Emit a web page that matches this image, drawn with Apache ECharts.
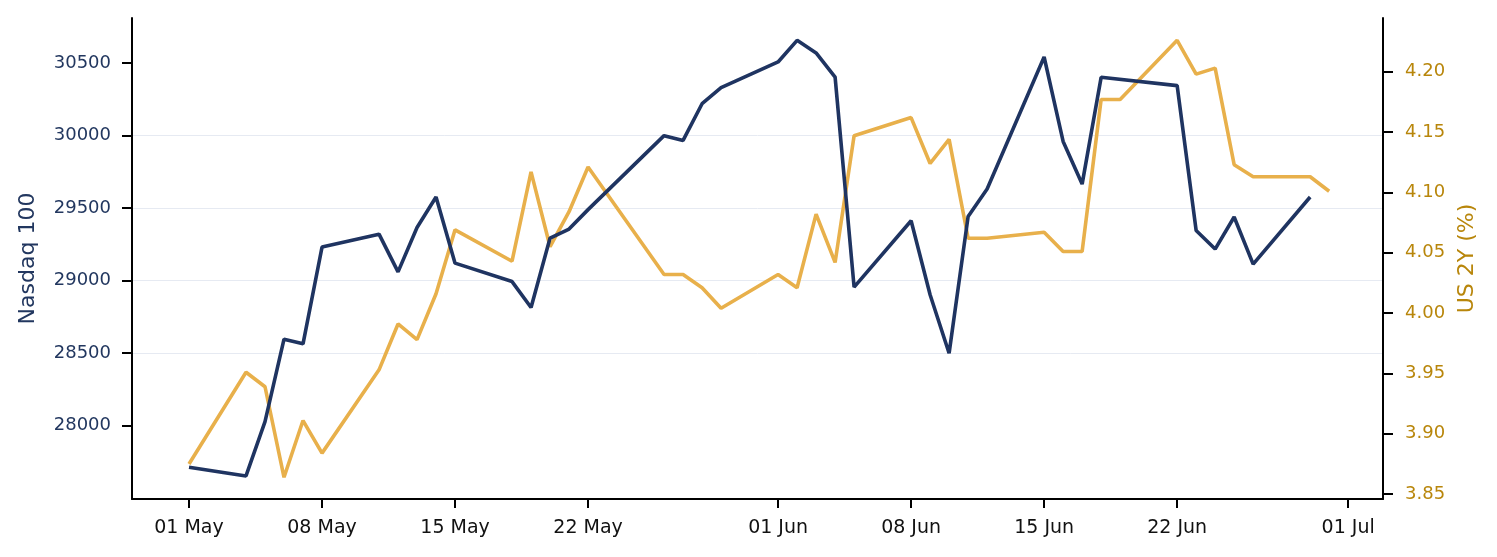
<!DOCTYPE html>
<html>
<head>
<meta charset="utf-8">
<script src="https://cdn.jsdelivr.net/npm/echarts@6/dist/echarts.min.js"></script>
<style>
  html, body { margin: 0; padding: 0; background: #fff; }
  #chart { width: 1497px; height: 557px; }
</style>
</head>
<body>
<div id="chart"></div>
<script>
// Nasdaq 100 trading days (navy line)
const ndxDates = [
  '2026-05-01', '2026-05-04', '2026-05-05', '2026-05-06', '2026-05-07', '2026-05-08',
  '2026-05-11', '2026-05-12', '2026-05-13', '2026-05-14', '2026-05-15',
  '2026-05-18', '2026-05-19', '2026-05-20', '2026-05-21', '2026-05-22',
  '2026-05-26', '2026-05-27', '2026-05-28', '2026-05-29',
  '2026-06-01', '2026-06-02', '2026-06-03', '2026-06-04', '2026-06-05',
  '2026-06-08', '2026-06-09', '2026-06-10', '2026-06-11', '2026-06-12',
  '2026-06-15', '2026-06-16', '2026-06-17', '2026-06-18',
  '2026-06-22', '2026-06-23', '2026-06-24', '2026-06-25', '2026-06-26',
  '2026-06-29'
];
const ndxValues = [
  27713, 27653, 28028, 28596, 28564, 29231,
  29320, 29060, 29366, 29576, 29120,
  28993, 28814, 29293, 29355, 29489,
  29999, 29966, 30219, 30330,
  30507, 30656, 30569, 30403, 28955,
  29412, 28902, 28499, 29442, 29631,
  30541, 29959, 29665, 30401,
  30344, 29345, 29217, 29438, 29113,
  29576
];

// US 2Y yield (gold line)
const us2yDates = [
  '2026-05-01', '2026-05-04', '2026-05-05', '2026-05-06', '2026-05-07', '2026-05-08',
  '2026-05-11', '2026-05-12', '2026-05-13', '2026-05-14', '2026-05-15',
  '2026-05-18', '2026-05-19', '2026-05-20', '2026-05-21', '2026-05-22',
  '2026-05-26', '2026-05-27', '2026-05-28', '2026-05-29',
  '2026-06-01', '2026-06-02', '2026-06-03', '2026-06-04', '2026-06-05',
  '2026-06-08', '2026-06-09', '2026-06-10', '2026-06-11', '2026-06-12',
  '2026-06-15', '2026-06-16', '2026-06-17', '2026-06-18', '2026-06-19',
  '2026-06-22', '2026-06-23', '2026-06-24', '2026-06-25', '2026-06-26',
  '2026-06-29', '2026-06-30'
];
const us2yValues = [
  3.875, 3.951, 3.939, 3.864, 3.911, 3.884,
  3.953, 3.991, 3.978, 4.016, 4.069,
  4.043, 4.117, 4.055, 4.084, 4.121,
  4.032, 4.032, 4.021, 4.004,
  4.032, 4.021, 4.082, 4.042, 4.147,
  4.162, 4.124, 4.144, 4.062, 4.062,
  4.067, 4.051, 4.051, 4.177, 4.177,
  4.226, 4.198, 4.203, 4.123, 4.113,
  4.113, 4.101
];

// tick labels
const xTickDates = ['2026-05-01', '2026-05-08', '2026-05-15', '2026-05-22', '2026-06-01',
  '2026-06-08', '2026-06-15', '2026-06-22', '2026-07-01'];
const ndxTicks = [28000, 28500, 29000, 29500, 30000, 30500];
const us2yTicks = [3.85, 3.90, 3.95, 4.00, 4.05, 4.10, 4.15, 4.20];

const MONTHS = ['Jan', 'Feb', 'Mar', 'Apr', 'May', 'Jun', 'Jul', 'Aug', 'Sep', 'Oct', 'Nov', 'Dec'];
function ts(s) {
  const p = s.split('-').map(Number);
  return Date.UTC(p[0], p[1] - 1, p[2]);
}
function fmtDate(v) {
  const d = new Date(v);
  return String(d.getUTCDate()).padStart(2, '0') + ' ' + MONTHS[d.getUTCMonth()];
}

const NAVY = '#1f3461';
const GOLD = '#e8b04b';
const FONT = 'DejaVu Sans';

let myChart = echarts.init(document.getElementById('chart'));
let option = {
  backgroundColor: '#fff',
  animation: false,
  grid: { left: 132, right: 114, top: 18, bottom: 58 },
  xAxis: {
    type: 'value',
    min: Date.UTC(2026, 3, 28),
    max: Date.UTC(2026, 6, 2, 20),
    axisLine: { show: true, lineStyle: { color: '#000', width: 2 } },
    axisTick: { show: true, length: 9, lineStyle: { color: '#000', width: 2 },
      customValues: xTickDates.map(ts) },
    axisLabel: { color: '#111', fontFamily: FONT, fontSize: 19, margin: 20,
      customValues: xTickDates.map(ts), formatter: fmtDate },
    splitLine: { show: false }
  },
  yAxis: [
    {
      type: 'value',
      position: 'left',
      min: 27494,
      max: 30810,
      minInterval: 500,
      maxInterval: 500,
      name: 'Nasdaq 100',
      nameLocation: 'middle',
      nameGap: 93,
      nameRotate: 90,
      nameTextStyle: { color: '#22375f', fontFamily: FONT, fontSize: 22 },
      axisLine: { show: true, lineStyle: { color: '#000', width: 2 } },
      axisTick: { show: true, length: 10, lineStyle: { color: '#000', width: 2 },
        customValues: ndxTicks },
      axisLabel: { color: '#22375f', fontFamily: FONT, fontSize: 18, margin: 21,
        customValues: ndxTicks, formatter: (v) => String(v) },
      splitLine: { show: true, showMinLine: false, showMaxLine: false,
        lineStyle: { color: '#e6eaf2', width: 1 } }
    },
    {
      type: 'value',
      position: 'right',
      min: 3.846,
      max: 4.2445,
      name: 'US 2Y (%)',
      nameLocation: 'middle',
      nameGap: 71,
      nameRotate: 90,
      nameTextStyle: { color: '#b8860b', fontFamily: FONT, fontSize: 22 },
      axisLine: { show: true, lineStyle: { color: '#000', width: 2 } },
      axisTick: { show: true, length: 10, lineStyle: { color: '#000', width: 2 },
        customValues: us2yTicks },
      axisLabel: { color: '#b8860b', fontFamily: FONT, fontSize: 18, margin: 22,
        customValues: us2yTicks, formatter: (v) => v.toFixed(2) },
      splitLine: { show: false }
    }
  ],
  series: [
    {
      name: 'Nasdaq 100',
      type: 'line',
      yAxisIndex: 0,
      showSymbol: false,
      lineStyle: { color: NAVY, width: 3.6 },
      itemStyle: { color: NAVY },
      data: ndxDates.map((d, i) => [ts(d), ndxValues[i]]),
      z: 3
    },
    {
      name: 'US 2Y (%)',
      type: 'line',
      yAxisIndex: 1,
      showSymbol: false,
      lineStyle: { color: GOLD, width: 3.6 },
      itemStyle: { color: GOLD },
      data: us2yDates.map((d, i) => [ts(d), us2yValues[i]]),
      z: 2
    }
  ]
};
option && myChart.setOption(option);
</script>
</body>
</html>
